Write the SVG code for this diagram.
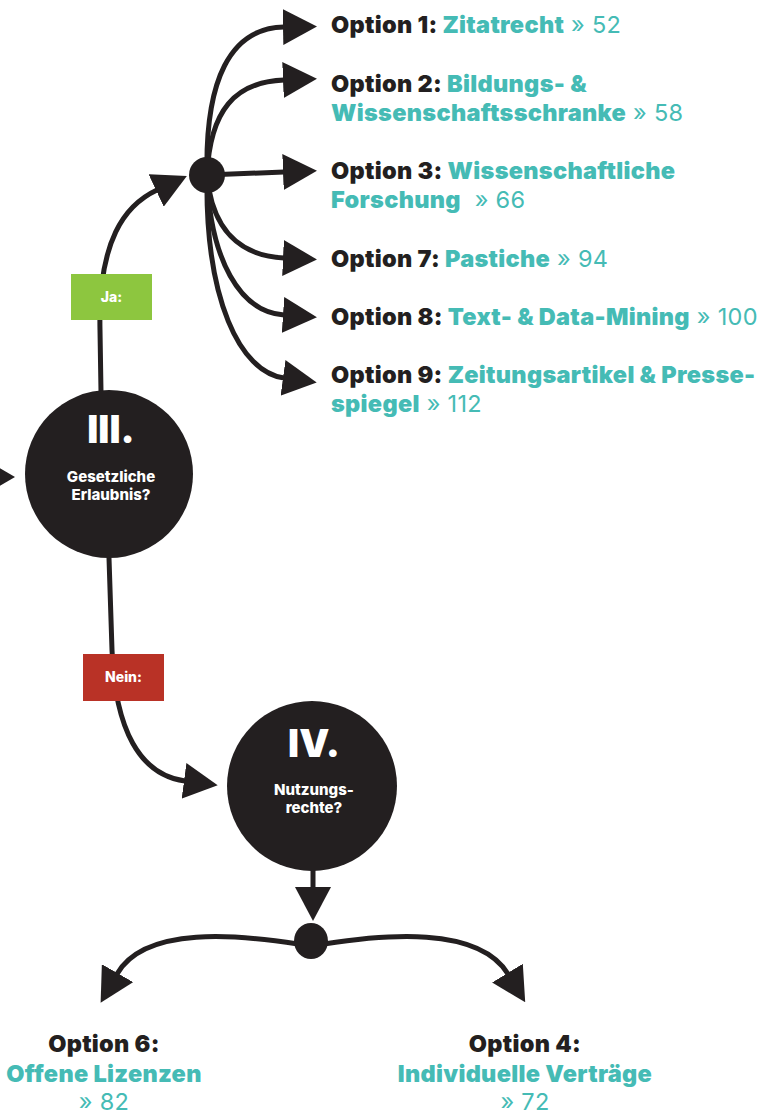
<svg xmlns="http://www.w3.org/2000/svg" width="761" height="1114" viewBox="0 0 761 1114">
<defs>
<style>
.con{fill:none;stroke:#231f20;stroke-width:5;stroke-linecap:round}
.head{fill:#231f20}
.node{fill:#231f20}
.opt{font-family:Inter,"Noto Sans",sans-serif;font-weight:900;font-size:23.5px;letter-spacing:0.3px;fill:#231f20}
.t{fill:#45bbb5}
.r{font-weight:400}
.num{font-family:Inter,"Noto Sans",sans-serif;font-weight:900;font-size:38px;fill:#fff;text-anchor:middle}
.q{font-family:Inter,"Noto Sans",sans-serif;font-weight:800;font-size:15px;fill:#fff;text-anchor:middle}
.lbl{font-family:Inter,"Noto Sans",sans-serif;font-weight:800;font-size:14px;fill:#fff;text-anchor:middle}
</style>
<marker id="arr" markerUnits="userSpaceOnUse" viewBox="0 0 34 36" markerWidth="34" markerHeight="36" refX="1" refY="18" orient="auto">
<path d="M0,0 L34,18 L0,36 Z" fill="#231f20"/>
</marker>
</defs>

<g id="connectors">
<polygon class="head" points="-16,459 15,477 -16,495"/>
<path class="con" d="M101,392 L100,330 C98,240 125,205 157,190" marker-end="url(#arr)"/>
<path class="con" d="M207,175 C205,80 230,28 284,27" marker-end="url(#arr)"/>
<path class="con" d="M207,175 C210,110 235,82 284,80" marker-end="url(#arr)"/>
<path class="con" d="M207,175 L284,172" marker-end="url(#arr)"/>
<path class="con" d="M207,175 C212,230 240,256 284,258" marker-end="url(#arr)"/>
<path class="con" d="M207,175 C210,260 240,312 284,315" marker-end="url(#arr)"/>
<path class="con" d="M207,175 C205,300 240,372 284,378" marker-end="url(#arr)"/>
<path class="con" d="M109,558 L112,650 C115,730 140,775 185,781" marker-end="url(#arr)"/>
<path class="con" d="M313,868 L313,888" marker-end="url(#arr)"/>
<path class="con" d="M298,944 C240,935 145,925 117,974" marker-end="url(#arr)"/>
<path class="con" d="M324,944 C382,935 478,925 508,974" marker-end="url(#arr)"/>
</g>

<g id="hub-top"><circle class="node" cx="207" cy="175" r="18"/></g>
<g id="hub-bottom"><ellipse class="node" cx="311" cy="941" rx="17" ry="18"/></g>

<g id="label-ja">
<rect x="71" y="274" width="81" height="46" fill="#8dc63f"/>
<text class="lbl" x="111.5" y="302">Ja:</text>
</g>
<g id="label-nein">
<rect x="83" y="654" width="81" height="47" fill="#b93226"/>
<text class="lbl" x="123.5" y="682">Nein:</text>
</g>

<g id="node-III">
<circle class="node" cx="109" cy="474" r="84"/>
<text class="num" x="111" y="443">III.</text>
<text class="q" x="111" y="482">Gesetzliche</text>
<text class="q" x="111" y="500">Erlaubnis?</text>
</g>

<g id="node-IV">
<circle class="node" cx="312" cy="786" r="85"/>
<text class="num" x="314" y="757">IV.</text>
<text class="q" x="314" y="795">Nutzungs-</text>
<text class="q" x="314" y="813">rechte?</text>
</g>

<g id="option-1"><text class="opt" x="331" y="33">Option 1: <tspan class="t">Zitatrecht</tspan><tspan class="t r"> » 52</tspan></text></g>
<g id="option-2">
<text class="opt" x="331" y="92">Option 2: <tspan class="t">Bildungs- &amp;</tspan></text>
<text class="opt t" x="331" y="121">Wissenschaftsschranke<tspan class="r"> » 58</tspan></text>
</g>
<g id="option-3">
<text class="opt" x="331" y="179">Option 3: <tspan class="t">Wissenschaftliche</tspan></text>
<text class="opt t" x="331" y="208">Forschung<tspan class="r">&#160; » 66</tspan></text>
</g>
<g id="option-7"><text class="opt" x="331" y="267">Option 7: <tspan class="t">Pastiche</tspan><tspan class="t r"> » 94</tspan></text></g>
<g id="option-8"><text class="opt" x="331" y="325">Option 8: <tspan class="t">Text- &amp; Data-Mining</tspan><tspan class="t r"> » 100</tspan></text></g>
<g id="option-9">
<text class="opt" x="331" y="383">Option 9: <tspan class="t">Zeitungsartikel &amp; Presse-</tspan></text>
<text class="opt t" x="331" y="412">spiegel<tspan class="r"> » 112</tspan></text>
</g>

<g id="option-6">
<text class="opt" x="104" y="1052" text-anchor="middle">Option 6:</text>
<text class="opt t" x="104" y="1082" text-anchor="middle">Offene Lizenzen</text>
<text class="opt t r" x="104" y="1110" text-anchor="middle">» 82</text>
</g>
<g id="option-4">
<text class="opt" x="525" y="1052" text-anchor="middle">Option 4:</text>
<text class="opt t" x="525" y="1082" text-anchor="middle">Individuelle Verträge</text>
<text class="opt t r" x="525" y="1110" text-anchor="middle">» 72</text>
</g>
</svg>
